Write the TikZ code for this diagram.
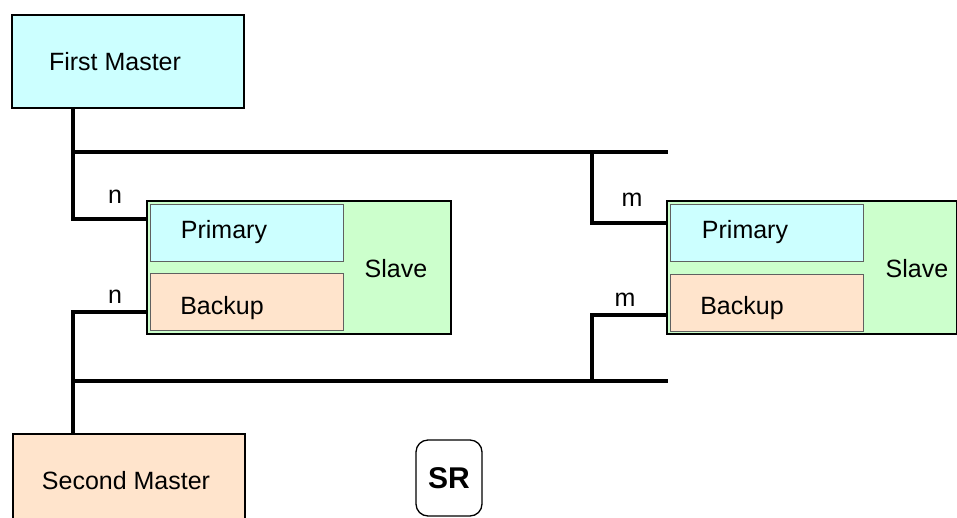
\documentclass[tikz,border=0pt]{standalone}
\usepackage{fontspec}
\setmainfont{Liberation Sans}
\definecolor{cyanfill}{HTML}{CCFFFF}
\definecolor{peachfill}{HTML}{FFE4CC}
\definecolor{greenfill}{HTML}{CCFFCC}
\definecolor{innerline}{HTML}{606060}
\begin{document}
\begin{tikzpicture}[x=1pt,y=-1pt,
  every node/.style={font=\fontsize{25}{29}\selectfont, inner sep=0pt},
  lbl/.style={anchor=base},
  outerbox/.style={draw=black, line width=2pt, minimum width=#1, anchor=north west},
  innerbox/.style={draw=innerline, line width=1.3pt, anchor=north west,
    minimum width=193, minimum height=57},
  wire/.style={line width=4.8pt}]
\clip (0,0) rectangle (957,517);
\useasboundingbox (0,0) rectangle (957,517);

% masters
\node[outerbox=232, minimum height=93, fill=cyanfill] (fm) at (11,14) {};
\node[lbl] (fmtext) at (115,70) {First Master};
\node[outerbox=232, minimum height=120, fill=peachfill] (sm) at (12,433) {};
\node[lbl] (smtext) at (126,489) {Second Master};

% left slave
\node[outerbox=304, minimum height=133, fill=greenfill] (s1) at (146,200) {};
\node[innerbox, fill=cyanfill] (p1) at (150,204) {};
\node[innerbox, fill=peachfill] (b1) at (150,273) {};
\node[lbl] at (224,238) {Primary};
\node[lbl] at (222,314) {Backup};
\node[lbl] at (396,277) {Slave};

% right slave
\node[outerbox=290, minimum height=133, fill=greenfill] (s2) at (666,200) {};
\node[innerbox, fill=cyanfill] (p2) at (670,204) {};
\node[innerbox, fill=peachfill] (b2) at (670,274) {};
\node[lbl] at (745,238) {Primary};
\node[lbl] at (742,314) {Backup};
\node[lbl] at (917,277) {Slave};

% SR tag
\node[draw=black, line width=1.3pt, rounded corners=12pt, minimum width=66,
  minimum height=76, font=\fontsize{30}{34}\selectfont\bfseries] (sr) at (449,478) {SR};

% bus coordinates
\coordinate (topL) at (73,152);
\coordinate (topR) at (668,152);
\coordinate (botL) at (73,381);
\coordinate (botR) at (668,381);
\coordinate (n1) at (73,219);
\coordinate (n2) at (73,312);
\coordinate (m1top) at (592,152);
\coordinate (m1) at (592,223);
\coordinate (m2) at (592,315);
\coordinate (m2bot) at (592,381);

% buses
\draw[wire] (topL) -- (topR);
\draw[wire] (botL) -- (botR);

% first master to left primary
\draw[wire] (fm.south -| n1) -- (n1) -- (n1 -| s1.west);
% second master to left backup
\draw[wire] (sm.north -| n2) -- (n2) -- (n2 -| s1.west);
% buses to right slave
\draw[wire] (m1top) -- (m1) -- (m1 -| s2.west);
\draw[wire] (m2bot) -- (m2) -- (m2 -| s2.west);

% link labels
\node[lbl] at (115,203) {n};
\node[lbl] at (115,303) {n};
\node[lbl] at (632,206) {m};
\node[lbl] at (625,306) {m};
\end{tikzpicture}
\end{document}
